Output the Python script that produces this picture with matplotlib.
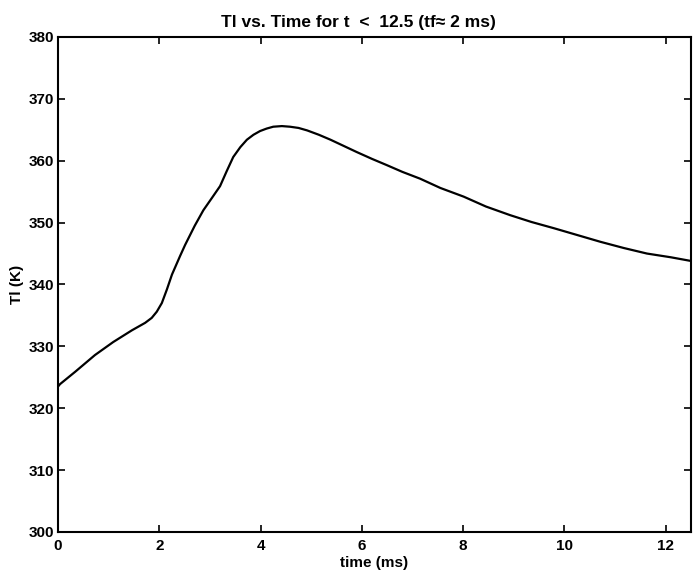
import matplotlib.pyplot as plt

plt.rcParams['font.family'] = ['Liberation Sans', 'DejaVu Sans']

# values
time_ms = [0.0, 0.04, 0.34, 0.73, 1.09, 1.46, 1.72, 1.85, 1.95, 2.05, 2.15, 2.25, 2.41, 2.51,
           2.70, 2.87, 3.04, 3.20, 3.33, 3.46, 3.60, 3.73, 3.86, 3.99, 4.12, 4.25,
           4.42, 4.58, 4.75, 4.92, 5.15, 5.38, 5.64, 5.90, 6.20, 6.49, 6.80, 7.15,
           7.55, 8.01, 8.45, 8.93, 9.35, 9.79, 10.25, 10.71, 11.17, 11.63, 12.10, 12.5]
temp_K = [323.5, 323.9, 325.9, 328.6, 330.7, 332.6, 333.8, 334.6, 335.6, 337.0, 339.2, 341.6, 344.6, 346.4,
          349.5, 352.0, 354.0, 355.9, 358.3, 360.6, 362.2, 363.4, 364.2, 364.8, 365.2, 365.5,
          365.6, 365.5, 365.3, 364.9, 364.2, 363.4, 362.4, 361.4, 360.3, 359.3, 358.2, 357.1,
          355.6, 354.2, 352.6, 351.2, 350.1, 349.1, 348.0, 346.9, 345.9, 345.0, 344.4, 343.8]

fig = plt.figure(figsize=(6.99, 5.78), dpi=100)
ax = fig.add_axes([0.083, 0.0796, 0.9056, 0.8564])

ax.plot(time_ms, temp_K, color='black', linewidth=1.6)

ax.set_xlim(0, 12.5)
ax.set_ylim(300, 380)
ax.set_xticks([0, 2, 4, 6, 8, 10, 12])
ax.set_yticks(range(300, 381, 10))
ax.tick_params(direction='in', top=True, right=True, length=5, width=1.2,
               labelsize=11, pad=3)
ax.tick_params(axis='x', pad=5)
for lbl in ax.get_xticklabels() + ax.get_yticklabels():
    lbl.set_fontweight('bold')
for s in ax.spines.values():
    s.set_linewidth(1.5)

ax.set_title("Tl vs. Time for t  <  12.5 (tf\u2248 2 ms)", fontsize=12.5, fontweight='bold',
             pad=7, x=0.475)
ax.set_xlabel("time (ms)", fontsize=11, fontweight='bold', labelpad=2)
ax.set_ylabel("Tl (K)", fontsize=11, fontweight='bold', labelpad=3)

fig.savefig("out.png", dpi=100)
